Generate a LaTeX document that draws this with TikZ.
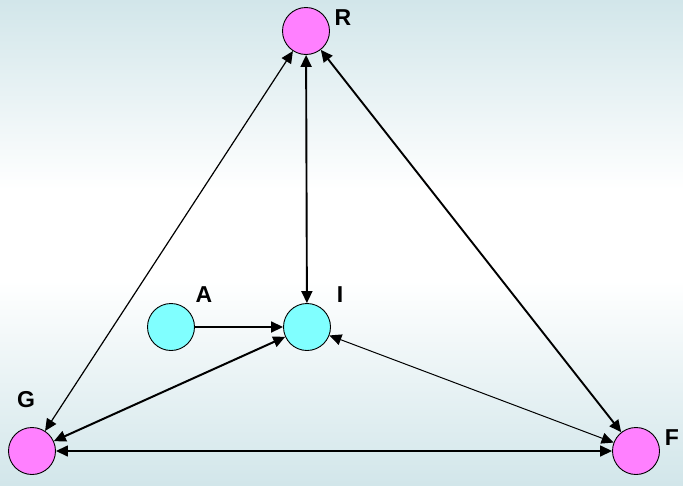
\documentclass[tikz,border=0pt]{standalone}
\usepackage{fontspec}
\setmainfont{Liberation Sans}
\usepackage{tikz}
\usetikzlibrary{arrows.meta,positioning}
\definecolor{cBg}{HTML}{D2E6EA}
\definecolor{cPink}{HTML}{FF80FF}
\definecolor{cCyan}{HTML}{80FFFF}
\tikzset{
  st/.style={circle,draw=black,fill=#1,line width=0.9pt,minimum size=47pt,inner sep=0pt},
  st/.default=cPink,
  tag/.style={font=\fontsize{23}{26}\selectfont\bfseries,inner sep=0pt},
  tip/.style={{Triangle[length=12pt,width=11pt]}},
  dl/.style={{Triangle[length=12pt,width=11pt]}-{Triangle[length=12pt,width=11pt]},line width=#1},
  dl/.default=1.3pt,
  sl/.style={-{Triangle[length=12pt,width=11pt]},line width=#1},
  sl/.default=1.8pt,
}
\begin{document}
\begin{tikzpicture}[x=1pt,y=-1pt]
  \useasboundingbox (0,0) rectangle (683,485);
  % background
  \shade[top color=cBg,bottom color=white] (0,0) rectangle (683,190);
  \fill[white] (0,189) rectangle (683,281);
  \shade[top color=white,bottom color=cBg] (0,280) rectangle (683,485);
  % states
  \node[st=cPink] (r) at (306,31) {};
  \node[st=cCyan] (a) at (171,327) {};
  \node[st=cCyan] (i) at (307,327) {};
  \node[st=cPink] (g) at (32,451) {};
  \node[st=cPink] (f) at (636,451) {};
  \node[tag] at (343,18) {R};
  \node[tag] at (204,295) {A};
  \node[tag] at (340,295) {I};
  \node[tag] at (26,400) {G};
  \node[tag] at (672,438) {F};
  % links
  \draw[dl=1.9pt] (r) -- (i);
  \draw[dl=1.2pt] (r) -- (g);
  \draw[dl=1.9pt] (r) -- (f);
  \draw[sl] (a) -- (i);
  \draw[dl=2pt] (g) -- (i);
  \draw[dl=1pt] (i) -- (f);
  \draw[dl=1.5pt] (g) -- (f);
\end{tikzpicture}
\end{document}
